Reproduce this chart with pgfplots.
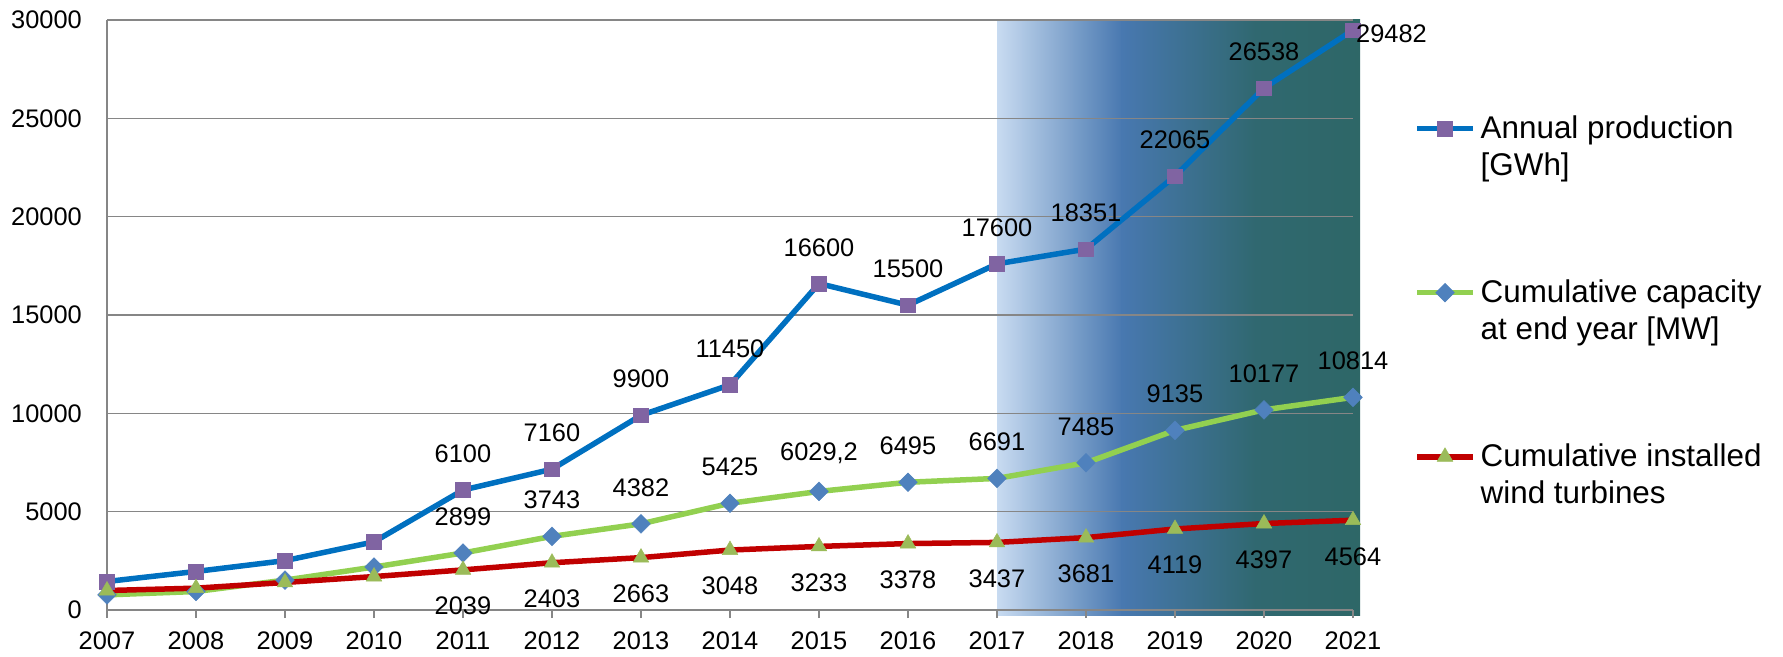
\documentclass[border=0pt]{standalone}
\usepackage{fontspec}
\setmainfont{Liberation Sans}
\usepackage{pgfplots}
\usepackage{pgfplotstable}
\pgfplotsset{compat=1.18}

\definecolor{prodline}{RGB}{0,112,192}
\definecolor{prodmark}{RGB}{128,100,162}
\definecolor{capline}{RGB}{146,208,80}
\definecolor{capmark}{RGB}{79,129,189}
\definecolor{turbline}{RGB}{192,0,0}
\definecolor{turbmark}{RGB}{155,187,89}
\definecolor{gridgray}{RGB}{134,134,134}
\definecolor{shA}{RGB}{200,219,241}
\definecolor{shB}{RGB}{72,120,176}
\definecolor{shC}{RGB}{48,104,112}
\definecolor{shD}{RGB}{46,103,103}

\pgfplotstableread{
year val
2007 1450
2008 1960
2009 2510
2010 3465
2011 6100
2012 7160
2013 9900
2014 11450
2015 16600
2016 15500
2017 17600
2018 18351
2019 22065
2020 26538
2021 29482
}\prodtab

\pgfplotstableread{
year val
2007 770
2008 940
2009 1520
2010 2185
2011 2899
2012 3743
2013 4382
2014 5425
2015 6029.2
2016 6495
2017 6691
2018 7485
2019 9135
2020 10177
2021 10814
}\captab

\pgfplotstableread{
year val
2007 990
2008 1110
2009 1400
2010 1700
2011 2039
2012 2403
2013 2663
2014 3048
2015 3233
2016 3378
2017 3437
2018 3681
2019 4119
2020 4397
2021 4564
}\turbtab

\pgfplotstableread{
year val label
2011 6100 6100
2012 7160 7160
2013 9900 9900
2014 11450 11450
2015 16600 16600
2016 15500 15500
2017 17600 17600
2018 18351 18351
2019 22065 22065
2020 26538 26538
}\prodlab

\pgfplotstableread{
year val label
2021 29482 29482
}\prodlabend

\pgfplotstableread{
year val label
2011 2899 2899
2012 3743 3743
2013 4382 4382
2014 5425 5425
2015 6029.2 6029,2
2016 6495 6495
2017 6691 6691
2018 7485 7485
2019 9135 9135
2020 10177 10177
2021 10814 10814
}\caplab

\pgfplotstableread{
year val label
2011 2039 2039
2012 2403 2403
2013 2663 2663
2014 3048 3048
2015 3233 3233
2016 3378 3378
2017 3437 3437
2018 3681 3681
2019 4119 4119
2020 4397 4397
2021 4564 4564
}\turblab

\begin{document}
\begin{tikzpicture}
\path (0,0) rectangle (1783bp,657bp);
\begin{axis}[
  at={(107bp,47bp)}, anchor=south west,
  scale only axis, width=1246bp, height=590bp,
  set layers, clip=false,
  xmin=2007, xmax=2021, ymin=0, ymax=30000,
  xtick={2007,2008,...,2021}, ytick={0,5000,...,30000},
  scaled y ticks=false, scaled x ticks=false,
  axis x line*=bottom, axis y line*=left,
  axis line style={gridgray, line width=1.5bp},
  ymajorgrids, grid style={gridgray, line width=1.5bp},
  tick align=outside, major tick length=8bp,
  xtick style={gridgray, line width=1.5bp},
  ytick style={draw=none},
  /pgf/number format/assume math mode=true,
  xticklabel style={/pgf/number format/1000 sep={}, font=\fontsize{25.5}{30}\selectfont, inner sep=0pt, yshift=-14bp},
  yticklabel style={/pgf/number format/1000 sep={}, font=\fontsize{25.5}{30}\selectfont, inner sep=0pt, xshift=-17bp},
  legend style={draw=none, fill=none, at={(1.049,0.841)}, anchor=north west,
    font=\fontsize{31.5}{37}\selectfont, inner sep=0pt, row sep=99bp, column sep=3bp,
    cells={anchor=base west, align=left, inner sep=0pt}},
  legend image code/.code={\draw[mark repeat=2, mark phase=2, #1] plot coordinates {(0bp,47bp) (28bp,47bp) (56bp,47bp)};},
]
\addplot[draw=none, left color=shA, right color=shB, on layer=axis background, forget plot]
  coordinates {(2017,-280) (2018.41,-280) (2018.41,30000) (2017,30000)} -- cycle;
\addplot[draw=none, left color=shB, right color=shC, on layer=axis background, forget plot]
  coordinates {(2018.4,-280) (2019.91,-280) (2019.91,30000) (2018.4,30000)} -- cycle;
\addplot[draw=none, left color=shC, right color=shD, on layer=axis background, forget plot]
  coordinates {(2019.9,-280) (2021.08,-280) (2021.08,30000) (2019.9,30000)} -- cycle;

\addplot[prodline, line width=5.5bp, mark=square*, mark size=7.3bp,
  mark options={solid, draw=prodmark, fill=prodmark, line width=0.5bp}]
  table[x=year, y=val]{\prodtab};
\addlegendentry{Annual production\\{[GWh]}}

\addplot[capline, line width=5.5bp, mark=square*, mark size=6.6bp,
  mark options={solid, rotate=45, draw=capmark, fill=capmark, line width=0.5bp}]
  table[x=year, y=val]{\captab};
\addlegendentry{Cumulative capacity\\at end year [MW]}

\addplot[turbline, line width=5.5bp, mark=triangle*, mark size=9bp,
  mark options={solid, draw=turbmark, fill=turbmark, line width=0.5bp}]
  table[x=year, y=val]{\turbtab};
\addlegendentry{Cumulative installed\\wind turbines}

\addplot[draw=none, mark=none, forget plot, nodes near coords, point meta=explicit symbolic,
  every node near coord/.append style={font=\fontsize{25.5}{30}\selectfont, inner sep=0pt, anchor=south, yshift=27bp, text=black}]
  table[x=year, y=val, meta=label]{\prodlab};
\addplot[draw=none, mark=none, forget plot, nodes near coords, point meta=explicit symbolic,
  every node near coord/.append style={font=\fontsize{25.5}{30}\selectfont, inner sep=0pt, anchor=west, xshift=3bp, yshift=-4bp, text=black}]
  table[x=year, y=val, meta=label]{\prodlabend};
\addplot[draw=none, mark=none, forget plot, nodes near coords, point meta=explicit symbolic,
  every node near coord/.append style={font=\fontsize{25.5}{30}\selectfont, inner sep=0pt, anchor=south, yshift=27bp, text=black}]
  table[x=year, y=val, meta=label]{\caplab};
\addplot[draw=none, mark=none, forget plot, nodes near coords, point meta=explicit symbolic,
  every node near coord/.append style={font=\fontsize{25.5}{30}\selectfont, inner sep=0pt, anchor=north, yshift=-27bp, text=black}]
  table[x=year, y=val, meta=label]{\turblab};
\end{axis}
\end{tikzpicture}
\end{document}
